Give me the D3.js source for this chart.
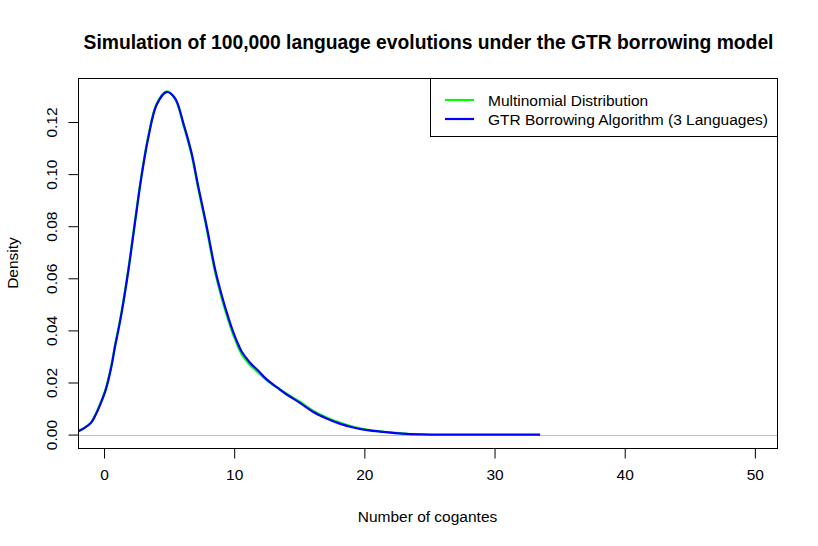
<!DOCTYPE html>
<html>
<head>
<meta charset="utf-8">
<script src="https://cdn.jsdelivr.net/npm/d3@7"></script>
<style>
  body { margin: 0; background: #fff; }
  text { font-family: "Liberation Sans", Arial, sans-serif; fill: #000; }
</style>
</head>
<body>
<div id="chart"></div>
<script>
// density curves
const blueX = [-1.98, -1.46, -1.0, -0.69, -0.31, 0.08, 0.33, 0.59, 0.84, 1.1, 1.36, 1.87, 2.38, 2.89, 3.4, 4.05, 4.8, 5.45, 6.09, 6.73, 7.24, 7.89, 8.53, 9.04, 9.42, 9.81, 10.19, 10.58, 11.2, 11.85, 12.5, 13.4, 14.03, 15.05, 16.08, 17.1, 18.1, 19.15, 20.2, 21.5, 22.9, 24.5, 26.0, 33.5];
const blueY = [0.0013, 0.0027, 0.0045, 0.0071, 0.0113, 0.0164, 0.0209, 0.0267, 0.0337, 0.0401, 0.0470, 0.0630, 0.0815, 0.0995, 0.1140, 0.1267, 0.1315, 0.1292, 0.1196, 0.1080, 0.0952, 0.0798, 0.0635, 0.0535, 0.0470, 0.0410, 0.0360, 0.0318, 0.0277, 0.0245, 0.0212, 0.0177, 0.0154, 0.0122, 0.0087, 0.0062, 0.0042, 0.0027, 0.0017, 0.0010, 0.0004, 0.0001, 0.0000, 0.0000];

const greenX = [-1.98, -1.46, -1.0, -0.69, -0.31, 0.08, 0.33, 0.59, 0.84, 1.1, 1.36, 1.87, 2.38, 2.89, 3.4, 4.05, 4.8, 5.45, 6.09, 6.73, 7.24, 7.89, 8.53, 9.04, 9.42, 9.81, 10.19, 10.58, 11.2, 11.85, 12.5, 13.4, 14.03, 15.05, 16.08, 17.1, 18.1, 19.15, 20.2, 21.5, 22.9, 23.3];
const greenY = [0.0013, 0.0028, 0.0047, 0.0074, 0.0117, 0.0168, 0.0214, 0.0272, 0.0342, 0.0406, 0.0476, 0.0636, 0.0821, 0.1001, 0.1146, 0.1271, 0.1318, 0.1289, 0.1190, 0.1072, 0.0944, 0.0788, 0.0624, 0.0524, 0.0459, 0.0399, 0.0350, 0.0308, 0.0268, 0.0238, 0.0208, 0.0177, 0.0157, 0.0126, 0.0091, 0.0066, 0.0046, 0.0030, 0.0019, 0.0011, 0.0005, 0.0004];

const xTicks = [0, 10, 20, 30, 40, 50];
const yTicks = [0, 0.02, 0.04, 0.06, 0.08, 0.10, 0.12];
const legendLabels = ["Multinomial Distribution", "GTR Borrowing Algorithm (3 Languages)"];
const legendColors = ["#00ff00", "#0000ff"];

const W = 818, H = 546;
const pL = 78, pR = 777, pT = 78, pB = 448;

const svg = d3.select("#chart").append("svg")
  .attr("width", W).attr("height", H);

const x = d3.scaleLinear().domain([-2.0, 51.7]).range([pL, pR]);
const y = d3.scaleLinear().domain([-0.00515, 0.1369]).range([pB, pT]);

// clip for the curves
svg.append("clipPath").attr("id", "clip")
  .append("rect").attr("x", pL).attr("y", pT)
  .attr("width", pR - pL).attr("height", pB - pT);

// title
svg.append("text")
  .attr("x", (pL + pR) / 2 + 1).attr("y", 49)
  .attr("text-anchor", "middle")
  .style("font-weight", "bold").style("font-size", "19.3px")
  .text("Simulation of 100,000 language evolutions under the GTR borrowing model");

// zero line
svg.append("line")
  .attr("x1", pL).attr("x2", pR)
  .attr("y1", Math.round(y(0)) + 0.5).attr("y2", Math.round(y(0)) + 0.5)
  .attr("stroke", "#bebebe").attr("stroke-width", 1);

const line = d3.line()
  .x(d => x(d[0])).y(d => y(d[1]))
  .curve(d3.curveCatmullRom.alpha(0.5));

const g = svg.append("g").attr("clip-path", "url(#clip)");
g.append("path")
  .datum(d3.zip(greenX, greenY))
  .attr("d", line)
  .attr("fill", "none").attr("stroke", legendColors[0]).attr("stroke-width", 2.2);
g.append("path")
  .datum(d3.zip(blueX, blueY))
  .attr("d", line)
  .attr("fill", "none").attr("stroke", legendColors[1]).attr("stroke-width", 2.2);

// axes
const xAxis = svg.append("g")
  .attr("transform", "translate(0," + (pB + 0.5) + ")")
  .call(d3.axisBottom(x).tickValues(xTicks).tickSize(10).tickSizeOuter(0).tickPadding(10));
xAxis.select(".domain").remove();
xAxis.selectAll("text").style("font-size", "15.5px").attr("font-family", null);
xAxis.selectAll("line").attr("stroke", "#000");

const yAxis = svg.append("g")
  .attr("transform", "translate(" + (pL + 0.5) + ",0)")
  .call(d3.axisLeft(y).tickValues(yTicks).tickSize(10).tickFormat(d3.format(".2f")));
yAxis.select(".domain").remove();
yAxis.selectAll("line").attr("stroke", "#000");
yAxis.selectAll("text")
  .attr("x", null).attr("dy", null)
  .attr("text-anchor", "middle")
  .attr("transform", "translate(-22,0) rotate(-90)")
  .attr("font-family", null)
  .style("font-size", "15.5px");

// plot box
svg.append("rect")
  .attr("x", pL + 0.5).attr("y", pT + 0.5)
  .attr("width", pR - pL).attr("height", pB - pT)
  .attr("fill", "none").attr("stroke", "#000");

// axis titles
svg.append("text")
  .attr("x", (pL + pR) / 2).attr("y", 522)
  .attr("text-anchor", "middle").style("font-size", "15.5px")
  .text("Number of cogantes");
svg.append("text")
  .attr("transform", "translate(18," + ((pT + pB) / 2) + ") rotate(-90)")
  .attr("text-anchor", "middle").style("font-size", "15.5px")
  .text("Density");

// legend
const lg = svg.append("g");
lg.append("rect")
  .attr("x", 430.5).attr("y", pT + 0.5)
  .attr("width", pR - 430).attr("height", 58)
  .attr("fill", "#fff").attr("stroke", "#000");
legendLabels.forEach((lab, i) => {
  const yy = 100 + i * 19;
  lg.append("line")
    .attr("x1", 445).attr("x2", 474).attr("y1", yy).attr("y2", yy)
    .attr("stroke", legendColors[i]).attr("stroke-width", 2.2);
  lg.append("text")
    .attr("x", 488).attr("y", yy + 5.5)
    .style("font-size", "15.5px")
    .text(lab);
});
</script>
</body>
</html>
